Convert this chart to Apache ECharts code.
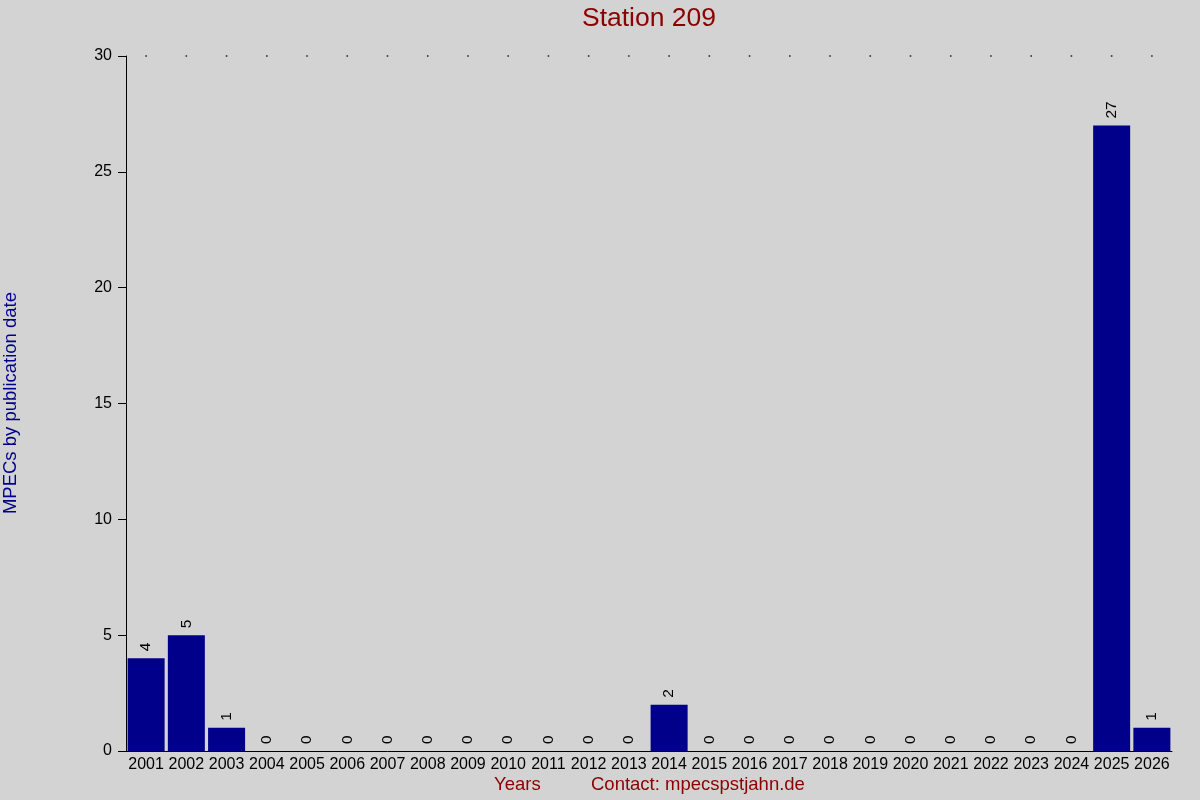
<!DOCTYPE html>
<html><head><meta charset="utf-8">
<script src="https://cdn.jsdelivr.net/npm/echarts@6/dist/echarts.min.js"></script>
<style>html,body{margin:0;padding:0;background:#d3d3d3}#c{width:1200px;height:800px}</style>
</head><body><div id="c"></div>
<script>
const years = ['2001','2002','2003','2004','2005','2006','2007','2008','2009','2010','2011','2012','2013','2014','2015','2016','2017','2018','2019','2020','2021','2022','2023','2024','2025','2026'];
const counts = [4,5,1,0,0,0,0,0,0,0,0,0,0,2,0,0,0,0,0,0,0,0,0,0,27,1];
const yMax = 30;
const yTicks = [0,5,10,15,20,25,30];

const chart = echarts.init(document.getElementById('c'));
chart.setOption({
  backgroundColor: '#d3d3d3',
  animation: false,
  graphic: [
    {type: 'text', x: 649, y: 5, style: {text: 'Station 209', fill: '#8b0000', font: '26.5px Liberation Sans', align: 'center'}},
    {type: 'text', left: 494, top: 775, style: {text: 'Years', fill: '#8b0000', font: '18.5px Liberation Sans'}},
    {type: 'text', left: 591, top: 775, style: {text: 'Contact: mpecspstjahn.de', fill: '#8b0000', font: '18.5px Liberation Sans'}},
    {type: 'text', left: 1, top: 292, rotation: Math.PI/2, style: {text: 'MPECs by publication date', fill: '#00008b', font: '18.5px Liberation Sans'}}
  ],
  grid: {left: 126, right: 28, top: 56, bottom: 49},
  xAxis: {
    type: 'category', data: years,
    axisLine: {lineStyle: {color: '#000', width: 1}},
    axisTick: {show: false},
    axisLabel: {color: '#000', fontSize: 16, fontFamily: 'Liberation Sans', margin: 6, interval: 0}
  },
  yAxis: {
    type: 'value', min: 0, max: yMax, interval: 5,
    axisLine: {show: true, lineStyle: {color: '#000', width: 1}},
    axisTick: {show: true, length: 8, lineStyle: {color: '#000'}},
    axisLabel: {color: '#000', fontSize: 16, fontFamily: 'Liberation Sans', margin: 14},
    splitLine: {show: false}
  },
  series: [
    {type: 'bar', data: counts, barCategoryGap: '8%',
      itemStyle: {color: '#00008b'},
      label: {show: true, position: 'top', rotate: 90, align: 'left', verticalAlign: 'middle', distance: 7,
        color: '#000', fontSize: 15.5, fontFamily: 'Liberation Sans'}},
    {type: 'scatter', data: years.map(() => yMax), symbolSize: 1.6, symbol: 'rect',
      itemStyle: {color: '#000'}, silent: true}
  ]
});
</script></body></html>
